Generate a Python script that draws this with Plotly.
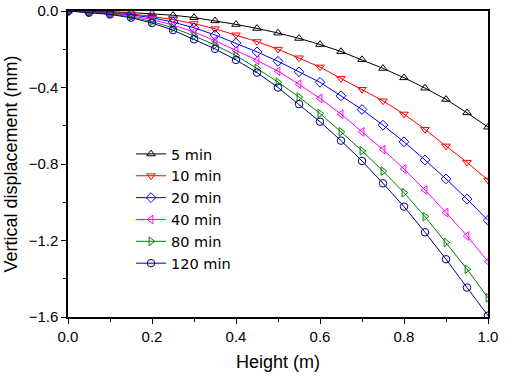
import plotly.graph_objects as go

height = [0.0, 0.05, 0.1, 0.15, 0.2, 0.25, 0.3, 0.35, 0.4, 0.45, 0.5,
          0.55, 0.6, 0.65, 0.7, 0.75, 0.8, 0.85, 0.9, 0.95, 1.0]

disp_5 = [0, -0.001, -0.004, -0.008, -0.014, -0.022, -0.034, -0.051, -0.07, -0.091, -0.115,
          -0.143, -0.175, -0.212, -0.254, -0.3, -0.349, -0.403, -0.462, -0.532, -0.607]
disp_10 = [0, -0.002, -0.007, -0.015, -0.028, -0.045, -0.066, -0.093, -0.125, -0.16, -0.2,
           -0.245, -0.293, -0.353, -0.41, -0.47, -0.539, -0.619, -0.706, -0.791, -0.884]
disp_20 = [0, -0.004, -0.01, -0.02, -0.035, -0.058, -0.088, -0.125, -0.168, -0.214, -0.263,
           -0.318, -0.373, -0.444, -0.515, -0.597, -0.684, -0.779, -0.878, -0.983, -1.095]
disp_40 = [0, -0.005, -0.012, -0.025, -0.045, -0.073, -0.11, -0.155, -0.205, -0.258, -0.315,
           -0.383, -0.457, -0.539, -0.632, -0.725, -0.826, -0.936, -1.054, -1.176, -1.31]
disp_80 = [0, -0.006, -0.015, -0.03, -0.055, -0.088, -0.13, -0.178, -0.233, -0.3, -0.372,
           -0.45, -0.536, -0.632, -0.731, -0.837, -0.95, -1.075, -1.21, -1.35, -1.5]
disp_120 = [0, -0.008, -0.018, -0.035, -0.063, -0.1, -0.148, -0.198, -0.256, -0.322, -0.4,
            -0.487, -0.579, -0.678, -0.784, -0.901, -1.023, -1.157, -1.298, -1.446, -1.593]

series_names = ["5 min", "10 min", "20 min", "40 min", "80 min", "120 min"]
series_values = [disp_5, disp_10, disp_20, disp_40, disp_80, disp_120]
colors = ["#000000", "#FF0000", "#0000FF", "#FF00FF", "#008000", "#000080"]
symbols = ["triangle-up-open", "triangle-down-open", "diamond-open",
           "triangle-left-open", "triangle-right-open", "circle-open"]

FONT = "Liberation Sans, Arial, sans-serif"

fig = go.Figure()
for name, vals, col, sym in zip(series_names, series_values, colors, symbols):
    fig.add_trace(go.Scatter(
        x=height, y=vals, name=name, mode="lines+markers",
        line=dict(color=col, width=1),
        marker=dict(symbol=sym, size=7.5, color=col, line=dict(width=1, color=col)),
    ))

axis_common = dict(
    showline=True, linecolor="black", linewidth=1.5, mirror=True,
    ticks="outside", ticklen=5, tickwidth=1.2, tickcolor="black",
    showgrid=False, zeroline=False, automargin=False,
    tickfont=dict(family=FONT, size=15, color="black"),
    title_font=dict(family=FONT, size=18, color="black"),
)

fig.update_xaxes(range=[0, 1.0], dtick=0.2, tickformat=".1f",
                 minor=dict(dtick=0.1, ticks="outside", ticklen=3, tickcolor="black"),
                 title_text="Height (m)", title_standoff=12, **axis_common)
fig.update_yaxes(range=[-1.6, 0.0], dtick=0.4, tickformat=".1f",
                 minor=dict(dtick=0.2, ticks="outside", ticklen=3, tickcolor="black"),
                 title_text="Vertical displacement (mm)", title_standoff=6, **axis_common)

fig.update_layout(
    width=506, height=379,
    margin=dict(l=68, r=18, t=11, b=62),
    paper_bgcolor="white", plot_bgcolor="white",
    font=dict(family=FONT, color="black"),
    legend=dict(x=0.15, y=0.585, xanchor="left", yanchor="top",
                bgcolor="rgba(0,0,0,0)", borderwidth=0,
                font=dict(family="DejaVu Sans, sans-serif", size=14.5, color="black"),
                tracegroupgap=0),
    showlegend=True,
)

fig.write_html("out.html", config={"displayModeBar": False},
               post_script="document.body.style.margin='0px';")
